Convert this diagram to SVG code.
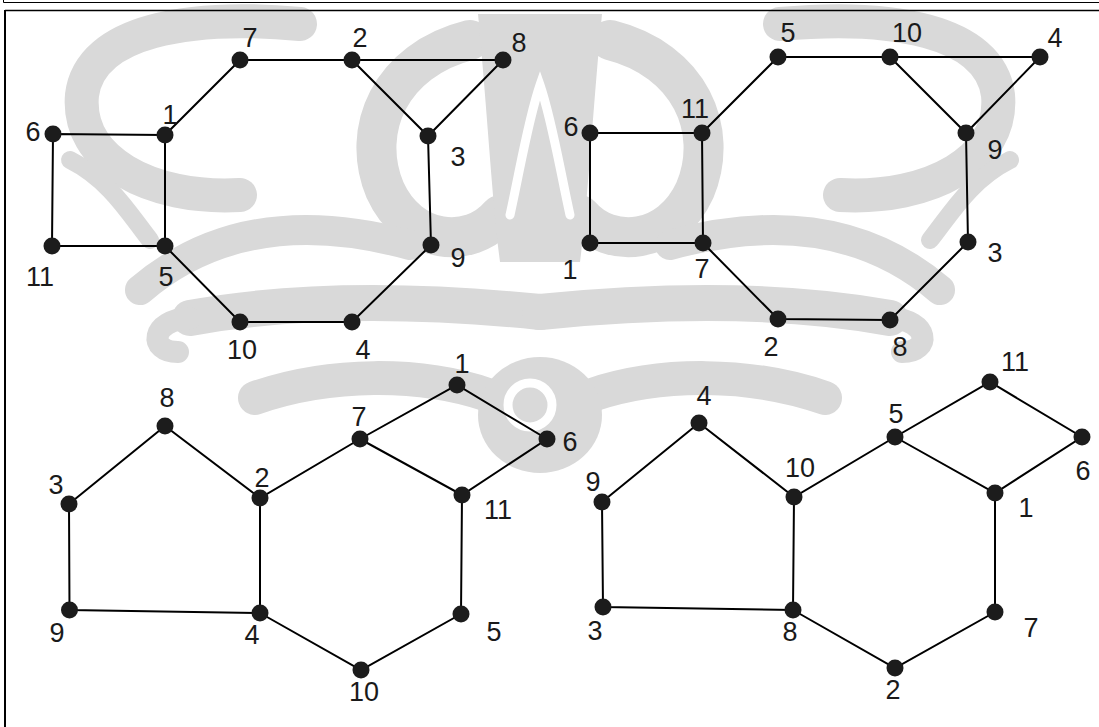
<svg xmlns="http://www.w3.org/2000/svg" width="1099" height="727" viewBox="0 0 1099 727">
  <style>
    .edge { stroke: #000; stroke-width: 2; fill: none; stroke-linecap: round; }
    .node { fill: #1c1c1c; }
    .lbl { font-family: "Liberation Sans", Arial, Helvetica, sans-serif; font-size: 27px; fill: #1a1a1a; text-anchor: middle; }
    .frame { stroke: #000; fill: none; }
    .wm { fill: none; stroke: #d9d9d9; stroke-linecap: round; stroke-linejoin: round; }
    .wmf { fill: #d9d9d9; }
  </style>
  <defs>
    <circle id="dot" r="8.5"/>
    <!-- half of the faint background emblem; the other half is mirrored -->
    <g id="emblem-half">
      <path class="wm" stroke-width="34" d="M300,24 C190,14 90,30 82,95 C76,160 150,200 240,195"/>
      <path class="wm" stroke-width="40" d="M470,40 C390,60 360,130 385,190 C410,245 470,250 500,215"/>
      <path class="wm" stroke-width="30" d="M140,290 C210,230 300,215 410,245"/>
      <path class="wm" stroke-width="18" d="M70,160 C110,180 130,215 150,240"/>
      <path class="wm" stroke-width="36" d="M190,318 C300,298 420,300 540,312"/>
      <path class="wm" stroke-width="22" d="M190,318 C150,320 148,352 178,352"/>
      <path class="wm" stroke-width="34" d="M255,398 C330,372 420,372 488,395"/>
      <path class="wmf" d="M478,14 L540,14 L540,262 L500,262 C492,200 488,120 478,14 Z"/>
    </g>
  </defs>

  <!-- background emblem -->
  <g id="emblem">
    <use href="#emblem-half"/>
    <use href="#emblem-half" transform="translate(1080,0) scale(-1,1)"/>
    <ellipse class="wmf" cx="540" cy="415" rx="62" ry="58"/>
    <circle cx="530" cy="405" r="22" fill="none" stroke="#fff" stroke-width="9"/>
    <path d="M510,215 C520,170 528,120 540,85 C552,120 560,170 570,215" fill="none" stroke="#fff" stroke-width="9" stroke-linecap="round"/>
    <circle cx="614" cy="165" r="14" fill="none" stroke="#fff" stroke-width="8"/>
    <circle cx="466" cy="165" r="14" fill="none" stroke="#fff" stroke-width="8"/>
  </g>

  <!-- page frame -->
  <g id="frame">
    <path class="frame" stroke-width="1" d="M3.5,0 V2.5 H1099"/>
    <path class="frame" stroke-width="1.5" d="M5,10.5 H1099"/>
    <path class="frame" stroke-width="2" d="M5,10 V727"/>
  </g>

  <!-- connectors -->
  <g id="connectors">
    <!-- upper-left graph -->
    <path class="edge" d="M240,60 L352,60 L503,60 L428,136 L352,60"/>
    <path class="edge" d="M428,136 L431,245 L352,322 L240,322 L165,246 L165,135 L240,60"/>
    <path class="edge" d="M165,135 L53,134 L52,246 L165,246"/>
    <!-- upper-right graph -->
    <path class="edge" d="M778,57 L890,57 L1040,57 L966,133 L890,57"/>
    <path class="edge" d="M966,133 L968,242 L890,320 L778,319 L703,243 L702,133 L778,57"/>
    <path class="edge" d="M702,133 L590,133 L590,243 L703,243"/>
    <!-- lower-left graph -->
    <path class="edge" d="M69,504 L165,426 L260,498 L360,439 L457,385 L547,439 L462,495 L360,439"/>
    <path class="edge" d="M260,498 L260,613 L69.5,610 L69,504"/>
    <path class="edge" d="M260,613 L361,670 L461,614 L462,495"/>
    <!-- lower-right graph -->
    <path class="edge" d="M602,502 L699,423 L794,497 L895,437 L990,382 L1082,437 L995,493 L895,437"/>
    <path class="edge" d="M794,497 L793,610 L603,607 L602,502"/>
    <path class="edge" d="M793,610 L895,668 L995,612 L995,493"/>
  </g>

  <!-- upper-left graph nodes -->
  <g id="g1">
    <g id="g1-n1"><use href="#dot" class="node" x="165" y="135"/><text class="lbl" x="170" y="124">1</text></g>
    <g id="g1-n2"><use href="#dot" class="node" x="352" y="60"/><text class="lbl" x="360" y="47">2</text></g>
    <g id="g1-n3"><use href="#dot" class="node" x="428" y="136"/><text class="lbl" x="458" y="166">3</text></g>
    <g id="g1-n4"><use href="#dot" class="node" x="352" y="322"/><text class="lbl" x="363" y="359">4</text></g>
    <g id="g1-n5"><use href="#dot" class="node" x="165" y="246"/><text class="lbl" x="166" y="286">5</text></g>
    <g id="g1-n6"><use href="#dot" class="node" x="53" y="134"/><text class="lbl" x="33" y="141">6</text></g>
    <g id="g1-n7"><use href="#dot" class="node" x="240" y="60"/><text class="lbl" x="250" y="47">7</text></g>
    <g id="g1-n8"><use href="#dot" class="node" x="503" y="60"/><text class="lbl" x="519" y="52">8</text></g>
    <g id="g1-n9"><use href="#dot" class="node" x="431" y="245"/><text class="lbl" x="458" y="267">9</text></g>
    <g id="g1-n10"><use href="#dot" class="node" x="240" y="322"/><text class="lbl" x="242" y="359">10</text></g>
    <g id="g1-n11"><use href="#dot" class="node" x="52" y="246"/><text class="lbl" x="40" y="286">11</text></g>
  </g>

  <!-- upper-right graph nodes -->
  <g id="g2">
    <g id="g2-n1"><use href="#dot" class="node" x="590" y="243"/><text class="lbl" x="570" y="279">1</text></g>
    <g id="g2-n2"><use href="#dot" class="node" x="778" y="319"/><text class="lbl" x="771" y="356">2</text></g>
    <g id="g2-n3"><use href="#dot" class="node" x="968" y="242"/><text class="lbl" x="995" y="262">3</text></g>
    <g id="g2-n4"><use href="#dot" class="node" x="1040" y="57"/><text class="lbl" x="1055" y="47">4</text></g>
    <g id="g2-n5"><use href="#dot" class="node" x="778" y="57"/><text class="lbl" x="788" y="42">5</text></g>
    <g id="g2-n6"><use href="#dot" class="node" x="590" y="133"/><text class="lbl" x="571" y="136">6</text></g>
    <g id="g2-n7"><use href="#dot" class="node" x="703" y="243"/><text class="lbl" x="702" y="278">7</text></g>
    <g id="g2-n8"><use href="#dot" class="node" x="890" y="320"/><text class="lbl" x="900" y="356">8</text></g>
    <g id="g2-n9"><use href="#dot" class="node" x="966" y="133"/><text class="lbl" x="995" y="159">9</text></g>
    <g id="g2-n10"><use href="#dot" class="node" x="890" y="57"/><text class="lbl" x="907" y="42">10</text></g>
    <g id="g2-n11"><use href="#dot" class="node" x="702" y="133"/><text class="lbl" x="695" y="118">11</text></g>
  </g>

  <!-- lower-left graph nodes -->
  <g id="g3">
    <g id="g3-n1"><use href="#dot" class="node" x="457" y="385"/><text class="lbl" x="462" y="373">1</text></g>
    <g id="g3-n2"><use href="#dot" class="node" x="260" y="498"/><text class="lbl" x="262" y="487">2</text></g>
    <g id="g3-n3"><use href="#dot" class="node" x="69" y="504"/><text class="lbl" x="56" y="494">3</text></g>
    <g id="g3-n4"><use href="#dot" class="node" x="260" y="613"/><text class="lbl" x="252" y="644">4</text></g>
    <g id="g3-n5"><use href="#dot" class="node" x="461" y="614"/><text class="lbl" x="494" y="641">5</text></g>
    <g id="g3-n6"><use href="#dot" class="node" x="547" y="439"/><text class="lbl" x="570" y="451">6</text></g>
    <g id="g3-n7"><use href="#dot" class="node" x="360" y="439"/><text class="lbl" x="359" y="426">7</text></g>
    <g id="g3-n8"><use href="#dot" class="node" x="165" y="426"/><text class="lbl" x="167" y="407">8</text></g>
    <g id="g3-n9"><use href="#dot" class="node" x="69.5" y="610"/><text class="lbl" x="57" y="642">9</text></g>
    <g id="g3-n10"><use href="#dot" class="node" x="361" y="670"/><text class="lbl" x="364" y="701">10</text></g>
    <g id="g3-n11"><use href="#dot" class="node" x="462" y="495"/><text class="lbl" x="498" y="519">11</text></g>
  </g>

  <!-- lower-right graph nodes -->
  <g id="g4">
    <g id="g4-n1"><use href="#dot" class="node" x="995" y="493"/><text class="lbl" x="1026" y="517">1</text></g>
    <g id="g4-n2"><use href="#dot" class="node" x="895" y="668"/><text class="lbl" x="893" y="699">2</text></g>
    <g id="g4-n3"><use href="#dot" class="node" x="603" y="607"/><text class="lbl" x="595" y="640">3</text></g>
    <g id="g4-n4"><use href="#dot" class="node" x="699" y="423"/><text class="lbl" x="704" y="405">4</text></g>
    <g id="g4-n5"><use href="#dot" class="node" x="895" y="437"/><text class="lbl" x="896" y="423">5</text></g>
    <g id="g4-n6"><use href="#dot" class="node" x="1082" y="437"/><text class="lbl" x="1083" y="480">6</text></g>
    <g id="g4-n7"><use href="#dot" class="node" x="995" y="612"/><text class="lbl" x="1031" y="637">7</text></g>
    <g id="g4-n8"><use href="#dot" class="node" x="793" y="610"/><text class="lbl" x="790" y="641">8</text></g>
    <g id="g4-n9"><use href="#dot" class="node" x="602" y="502"/><text class="lbl" x="593" y="491">9</text></g>
    <g id="g4-n10"><use href="#dot" class="node" x="794" y="497"/><text class="lbl" x="800" y="477">10</text></g>
    <g id="g4-n11"><use href="#dot" class="node" x="990" y="382"/><text class="lbl" x="1015" y="371">11</text></g>
  </g>
</svg>
